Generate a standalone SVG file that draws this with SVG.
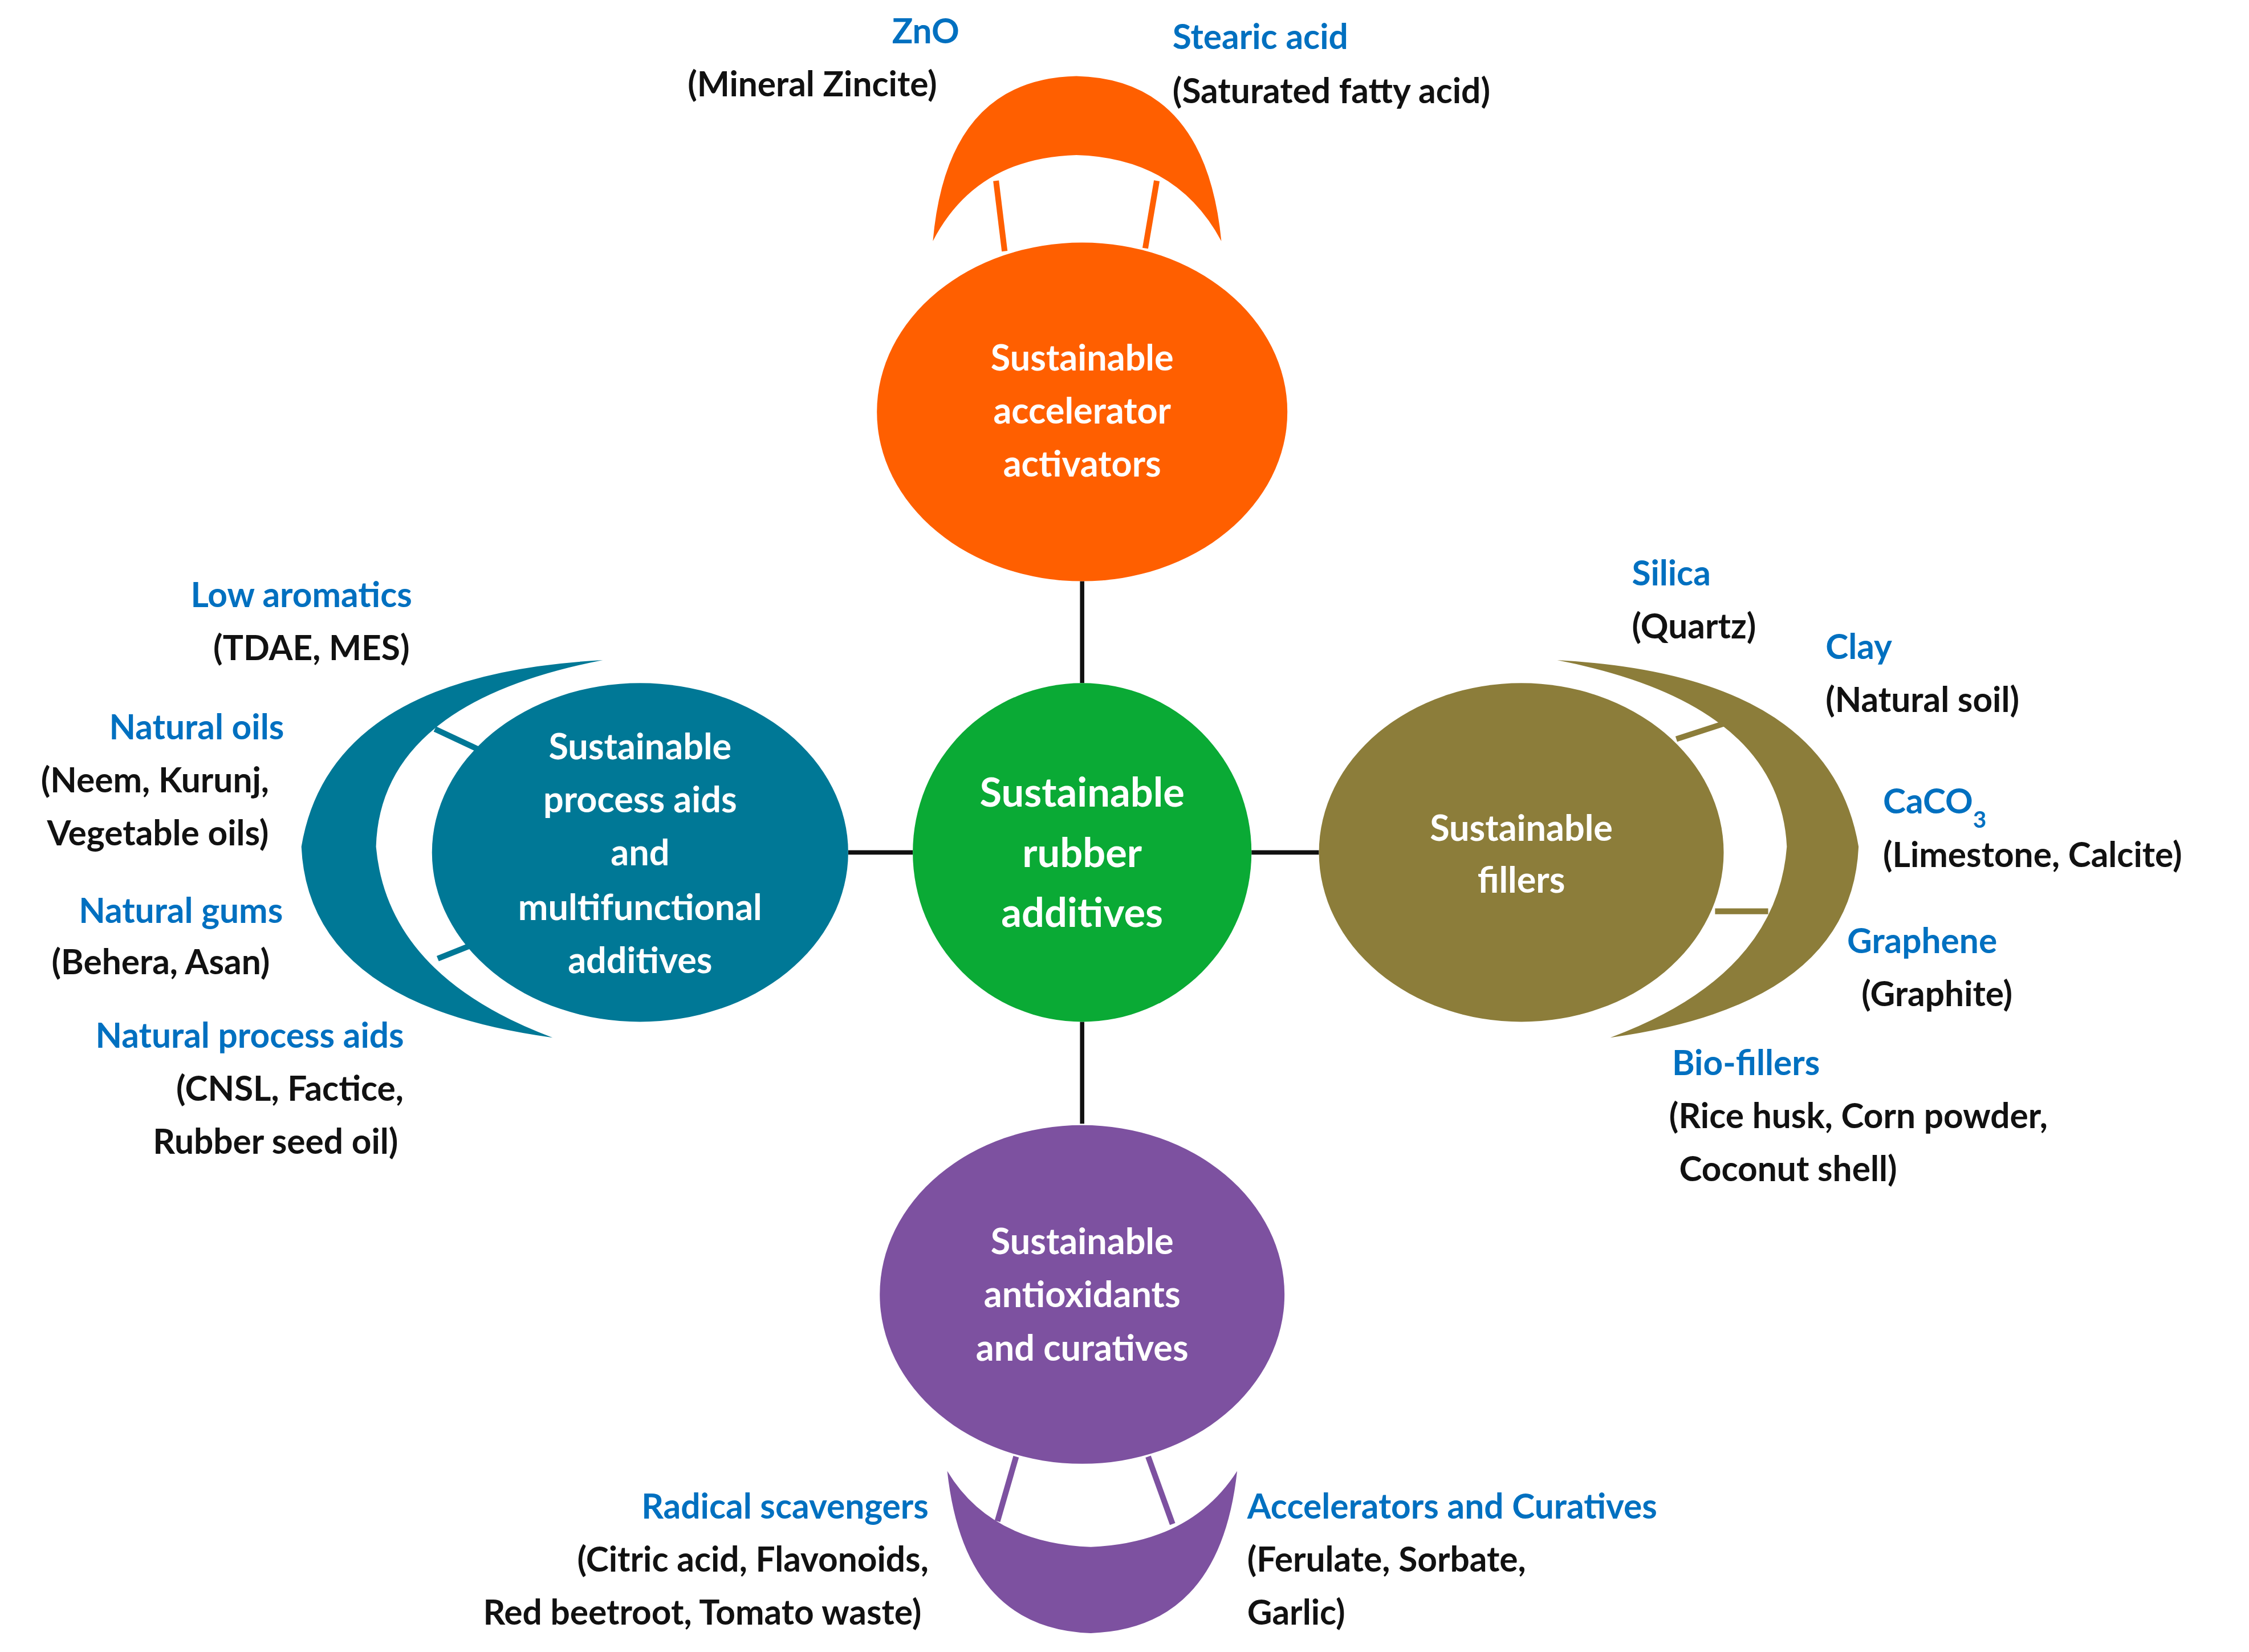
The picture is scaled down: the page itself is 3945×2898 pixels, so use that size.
<svg xmlns="http://www.w3.org/2000/svg" width="3945" height="2898" viewBox="0 0 3945 2898">
<style>
text{font-family:Lato,"Open Sans","Liberation Sans",sans-serif;font-weight:bold;font-size:24px}
.b{fill:#0070C0}.k{fill:#111}.w{fill:#fff;text-anchor:middle;font-size:25px}
.c{text-anchor:middle}.r{text-anchor:end}
.ln{stroke:#111;stroke-width:3;fill:none}
</style>
<rect width="3945" height="2898" fill="#fff"/>
<g transform="scale(2.5175)">
<g id="connectors">
<line class="ln" x1="754" y1="405" x2="754" y2="476"/>
<line class="ln" x1="754" y1="712" x2="754" y2="783"/>
<line class="ln" x1="591" y1="594" x2="636" y2="594"/>
<line class="ln" x1="872" y1="594" x2="919" y2="594"/>
</g>
<g id="activators">
<path d="M650,168 Q660,55 750,53 Q840,55 851,168 Q820,110 750,108 Q680,110 650,168Z" fill="#FF5F00"/>
<line x1="694" y1="126" x2="700" y2="175" stroke="#FF5F00" stroke-width="4"/>
<line x1="806" y1="126" x2="798" y2="173" stroke="#FF5F00" stroke-width="4"/>
<ellipse cx="754" cy="287" rx="143" ry="118" fill="#FF5F00"/>
<text class="w" x="754" y="258">Sustainable</text><text class="w" x="754" y="295">accelerator</text><text class="w" x="754" y="332">activators</text>
<text class="b c" x="645" y="30">ZnO</text><text class="k c" x="566" y="67">(Mineral Zincite)</text>
<text class="b" x="817" y="34">Stearic acid</text><text class="k" x="817" y="72">(Saturated fatty acid)</text>
</g>
<g id="center">
<circle cx="754" cy="594" r="118" fill="#0AAA35"/>
<text class="w" x="754" y="562" font-size="28" style="font-size:28px">Sustainable</text>
<text class="w" x="754" y="604" style="font-size:28px">rubber</text>
<text class="w" x="754" y="646" style="font-size:28px">additives</text>
</g>
<g id="process">
<path d="M420,460 Q230,470 210,590 Q215,700 385,723 Q270,680 262,590 Q265,490 420,460Z" fill="#007896"/>
<line x1="303" y1="508" x2="335" y2="523" stroke="#007896" stroke-width="4"/>
<line x1="305" y1="668" x2="335" y2="656" stroke="#007896" stroke-width="4"/>
<ellipse cx="446" cy="594" rx="145" ry="118" fill="#007896"/>
<text class="w" x="446" y="529">Sustainable</text><text class="w" x="446" y="566">process aids</text><text class="w" x="446" y="603">and</text><text class="w" x="446" y="641">multifunctional</text><text class="w" x="446" y="678">additives</text>
<text class="b c" x="210" y="423">Low aromatics</text><text class="k c" x="217" y="460">(TDAE, MES)</text>
<text class="b c" x="137" y="515">Natural oils</text><text class="k c" x="108" y="552">(Neem, Kurunj,</text><text class="k c" x="110" y="589">Vegetable oils)</text>
<text class="b c" x="126" y="643">Natural gums</text><text class="k c" x="112" y="679">(Behera, Asan)</text>
<text class="b c" x="174" y="730">Natural process aids</text><text class="k c" x="202" y="767">(CNSL, Factice,</text><text class="k c" x="192" y="804">Rubber seed oil)</text>
</g>
<g id="fillers">
<path d="M1085,460 Q1275,470 1295,590 Q1290,700 1122,723 Q1238,680 1245,590 Q1240,490 1085,460Z" fill="#8C7D3A"/>
<line x1="1168" y1="515" x2="1205" y2="503" stroke="#8C7D3A" stroke-width="4"/>
<line x1="1195" y1="635" x2="1232" y2="635" stroke="#8C7D3A" stroke-width="4"/>
<ellipse cx="1060" cy="594" rx="141" ry="118" fill="#8C7D3A"/>
<text class="w" x="1060" y="586">Sustainable</text><text class="w" x="1060" y="622">fillers</text>
<text class="b" x="1137" y="408">Silica</text><text class="k" x="1137" y="445">(Quartz)</text>
<text class="b" x="1272" y="459">Clay</text><text class="k" x="1272" y="496">(Natural soil)</text>
<text class="b" x="1312" y="567">CaCO<tspan baseline-shift="sub" font-size="16">3</tspan></text><text class="k" x="1312" y="604">(Limestone, Calcite)</text>
<text class="b" x="1287" y="664">Graphene</text><text class="k" x="1297" y="701">(Graphite)</text>
<text class="b" x="1165" y="749">Bio-fillers</text><text class="k" x="1163" y="786">(Rice husk, Corn powder,</text><text class="k" x="1170" y="823">Coconut shell)</text>
</g>
<g id="antioxidants">
<path d="M660,1025 Q672,1135 760,1138 Q850,1135 862,1025 Q830,1075 760,1078 Q690,1075 660,1025Z" fill="#7D51A0"/>
<line x1="708" y1="1015" x2="695" y2="1060" stroke="#7D51A0" stroke-width="4"/>
<line x1="800" y1="1015" x2="817" y2="1062" stroke="#7D51A0" stroke-width="4"/>
<ellipse cx="754" cy="902" rx="141" ry="118" fill="#7D51A0"/>
<text class="w" x="754" y="874">Sustainable</text><text class="w" x="754" y="911">antioxidants</text><text class="w" x="754" y="948">and curatives</text>
<text class="b r" x="647" y="1058">Radical scavengers</text><text class="k r" x="647" y="1095">(Citric acid, Flavonoids,</text><text class="k r" x="642" y="1132">Red beetroot, Tomato waste)</text>
<text class="b" x="869" y="1058">Accelerators and Curatives</text><text class="k" x="869" y="1095">(Ferulate, Sorbate,</text><text class="k" x="869" y="1132">Garlic)</text>
</g>
</g>
</svg>
